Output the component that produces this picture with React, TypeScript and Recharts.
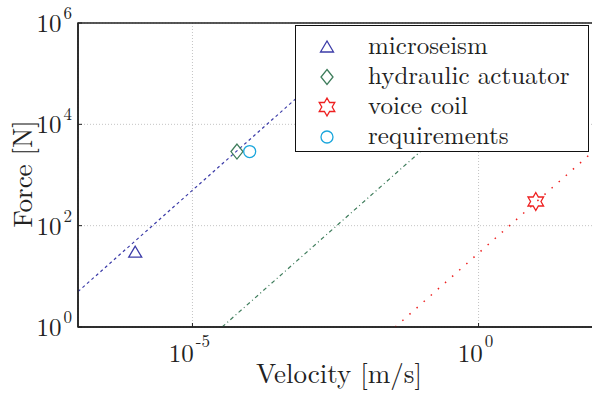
import React from "react";
import {
  ComposedChart,
  Line,
  Scatter,
  XAxis,
  YAxis,
  CartesianGrid,
  ReferenceArea,
} from "recharts";

// ---- data ----
const xTicks = [1e-5, 1];
const yTicks = [1, 1e2, 1e4, 1e6];
const xDomain = [1e-7, 100];
const yDomain = [1, 1e6];

const microseismPoint = [{ v: 1e-6, f: 30 }];
const hydraulicPoint = [{ v: 6e-5, f: 2900 }];
const voiceCoilPoint = [{ v: 10, f: 300 }];
const requirementsPoint = [{ v: 1e-4, f: 2900 }];

const microseismLine = [
  { v: 1e-7, f: 5 },
  { v: 1e-3, f: 5e4 },
];
const hydraulicLine = [
  { v: 3.3e-5, f: 1 },
  { v: 1, f: 3e4 },
];
const voiceCoilLine = [
  { v: 0.035, f: 1 },
  { v: 100, f: 2900 },
];

const legendLabels = ["microseism", "hydraulic actuator", "voice coil", "requirements"];

// ---- styles ----
const FONT = '"Latin Modern Roman", "Liberation Serif", serif';
const BLUE = "#3c3ca8";
const GREEN = "#3f7d5c";
const RED = "#ee2020";
const CYAN = "#1aa6dc";

const W = 594;
const H = 399;

const TriangleShape = (props: any) => {
  const { cx, cy } = props;
  if (cx == null || cy == null) return null;
  return (
    <polygon
      points={`${cx},${cy - 6} ${cx - 6.5},${cy + 5} ${cx + 6.5},${cy + 5}`}
      fill="none"
      stroke={BLUE}
      strokeWidth={1.3}
    />
  );
};
const DiamondShape = (props: any) => {
  const { cx, cy } = props;
  if (cx == null || cy == null) return null;
  return (
    <polygon
      points={`${cx},${cy - 7.5} ${cx + 6},${cy} ${cx},${cy + 7.5} ${cx - 6},${cy}`}
      fill="none"
      stroke={GREEN}
      strokeWidth={1.3}
    />
  );
};
const hexPoints = (cx: number, cy: number, R: number) => {
  const r = R / Math.sqrt(3);
  const pts: string[] = [];
  for (let i = 0; i < 12; i++) {
    const a = -Math.PI / 2 + (i * Math.PI) / 6;
    const rad = i % 2 === 0 ? R : r;
    pts.push(`${cx + rad * Math.cos(a)},${cy + rad * Math.sin(a)}`);
  }
  return pts.join(" ");
};
const StarShape = (props: any) => {
  const { cx, cy } = props;
  if (cx == null || cy == null) return null;
  return <polygon points={hexPoints(cx, cy, 9)} fill="none" stroke={RED} strokeWidth={1.3} />;
};
const CircleShape = (props: any) => {
  const { cx, cy } = props;
  if (cx == null || cy == null) return null;
  return <circle cx={cx} cy={cy} r={6} fill="none" stroke={CYAN} strokeWidth={1.3} />;
};

const expOf = (v: number) => String(Math.round(Math.log10(v)));

const XTick = (props: any) => {
  const { x, y, payload } = props;
  return (
    <g>
      <line x1={x} y1={y} x2={x} y2={y - 4} stroke="#222" strokeWidth={1} />
      <text x={x - 3} y={y + 35} textAnchor="middle" style={{ fontFamily: FONT }} fill="#222">
        <tspan fontSize={25}>10</tspan>
        <tspan fontSize={17} dx={2} dy={-15}>
          {expOf(payload.value)}
        </tspan>
      </text>
    </g>
  );
};

const YTick = (props: any) => {
  const { x, y, payload } = props;
  return (
    <g>
      <line x1={x} y1={y} x2={x + 4} y2={y} stroke="#222" strokeWidth={1} />
      <text x={x - 6} y={y + 9} textAnchor="end" style={{ fontFamily: FONT }} fill="#222">
        <tspan fontSize={25}>10</tspan>
        <tspan fontSize={17} dx={2} dy={-13}>
          {expOf(payload.value)}
        </tspan>
      </text>
    </g>
  );
};

const legendShapes = [TriangleShape, DiamondShape, StarShape, CircleShape];

export default function App() {
  return (
    <div
      style={{
        position: "absolute",
        left: 0,
        top: 0,
        width: 592,
        height: 399,
        overflow: "hidden",
        background: "#fff",
        fontFamily: FONT,
      }}
    >
      <ComposedChart
        width={W}
        height={H}
        margin={{ top: 23, right: 1, bottom: 0, left: 0 }}
        style={{ fontFamily: FONT }}
      >
        <CartesianGrid stroke="#c4c4c4" strokeDasharray="1 2" strokeWidth={1} />
        <XAxis
          dataKey="v"
          type="number"
          scale="log"
          domain={xDomain}
          ticks={xTicks}
          allowDataOverflow
          height={72}
          tickSize={0}
          tickMargin={0}
          tickLine={false}
          axisLine={{ stroke: "#222", strokeWidth: 1.5 }}
          tick={<XTick />}
          interval={0}
        />
        <YAxis
          dataKey="f"
          type="number"
          scale="log"
          domain={yDomain}
          ticks={yTicks}
          allowDataOverflow
          width={78}
          tickSize={0}
          tickMargin={0}
          tickLine={false}
          axisLine={{ stroke: "#222", strokeWidth: 1.5 }}
          tick={<YTick />}
          interval={0}
        />
        <ReferenceArea
          x1={xDomain[0]}
          x2={xDomain[1]}
          y1={yDomain[0]}
          y2={yDomain[1]}
          fill="none"
          fillOpacity={0}
          stroke="#222"
          strokeWidth={1.5}
          ifOverflow="visible"
        />
        <Line
          data={microseismLine}
          dataKey="f"
          stroke={BLUE}
          strokeWidth={1.2}
          strokeDasharray="3 3"
          dot={false}
          activeDot={false}
          isAnimationActive={false}
        />
        <Line
          data={hydraulicLine}
          dataKey="f"
          stroke={GREEN}
          strokeWidth={1.2}
          strokeDasharray="4 3 1 3"
          dot={false}
          activeDot={false}
          isAnimationActive={false}
        />
        <Line
          data={voiceCoilLine}
          dataKey="f"
          stroke={RED}
          strokeWidth={1.5}
          strokeDasharray="1.5 8"
          dot={false}
          activeDot={false}
          isAnimationActive={false}
        />
        <Scatter data={microseismPoint} dataKey="f" shape={<TriangleShape />} isAnimationActive={false} />
        <Scatter data={hydraulicPoint} dataKey="f" shape={<DiamondShape />} isAnimationActive={false} />
        <Scatter data={voiceCoilPoint} dataKey="f" shape={<StarShape />} isAnimationActive={false} />
        <Scatter data={requirementsPoint} dataKey="f" shape={<CircleShape />} isAnimationActive={false} />
        <text x={339} y={383} textAnchor="middle" style={{ fontFamily: FONT }} fontSize={27} fill="#222">
          Velocity [m/s]
        </text>
        <text
          x={32}
          y={174}
          transform="rotate(-90, 32, 174)"
          textAnchor="middle"
          style={{ fontFamily: FONT }}
          fontSize={27}
          fill="#222"
        >
          Force [N]
        </text>
      </ComposedChart>
      <div
        style={{
          position: "absolute",
          left: 295,
          top: 25,
          width: 294,
          height: 127,
          boxSizing: "border-box",
          border: "1.5px solid #111",
          background: "#fff",
        }}
      >
        <svg
          width={291}
          height={124}
          style={{ position: "absolute", left: 0, top: 0, overflow: "visible" }}
        >
          {legendLabels.map((label, i) => {
            const Shape = legendShapes[i];
            const cy = 21 + i * 30;
            return (
              <g key={label}>
                <Shape cx={31} cy={cy} />
                <text x={72} y={cy + 7} style={{ fontFamily: FONT }} fontSize={25} fill="#222">
                  {label}
                </text>
              </g>
            );
          })}
        </svg>
      </div>
    </div>
  );
}
